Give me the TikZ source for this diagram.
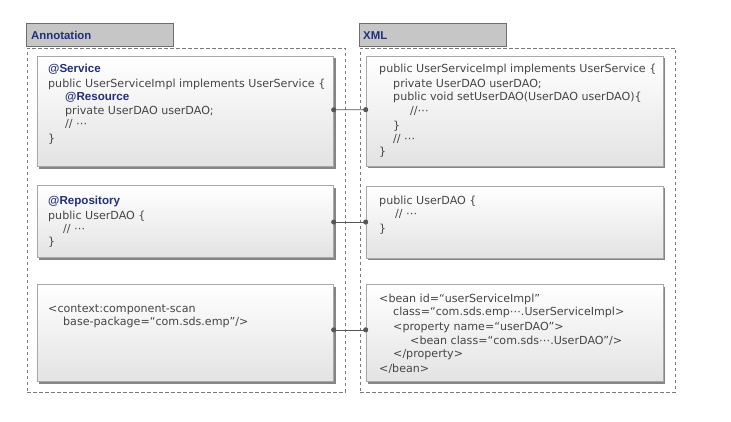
\documentclass[tikz,border=0pt]{standalone}
\usepackage{fontspec}
\setmainfont{DejaVu Sans}
\newfontfamily\boldfam{Liberation Sans}
\usetikzlibrary{shadows,arrows.meta}
\definecolor{codetext}{HTML}{454545}
\definecolor{navy}{HTML}{22307A}
\definecolor{titlefill}{HTML}{C6C6C6}
\definecolor{titleline}{HTML}{6E6E6E}
\definecolor{boxline}{HTML}{A8A8A8}
\definecolor{shadowgray}{HTML}{858585}
\definecolor{dotgray}{HTML}{555555}
\definecolor{dashgray}{HTML}{7A7A7A}
\tikzset{
  titlebox/.style={draw=titleline, fill=titlefill, line width=0.7pt, anchor=north west, inner sep=0pt},
  titletext/.style={anchor=base west, inner sep=0pt, text=navy, font=\boldfam\bfseries\fontsize{11.4}{13}\selectfont},
  container/.style={draw=dashgray, dash pattern=on 3.5pt off 2.5pt, line width=0.6pt, anchor=north west, inner sep=0pt},
  codebox/.style={draw=boxline, line width=0.5pt, top color=white, bottom color=black!11, anchor=north west, inner sep=0pt,
     drop shadow={shadow xshift=2.3pt, shadow yshift=-2.3pt, opacity=1, fill=shadowgray}},
  code/.style={anchor=base west, inner sep=0pt, text=codetext, font=\fontsize{11.1}{13}\selectfont},
  anno/.style={anchor=base west, inner sep=0pt, text=navy, font=\boldfam\bfseries\fontsize{11.6}{13}\selectfont},
  conn/.style={draw=dotgray, line width=0.7pt, {Circle[length=5pt]}-{Circle[length=5pt]}, shorten <=-2.5pt, shorten >=-2.5pt},
}
\begin{document}
\begin{tikzpicture}[x=1pt,y=-1pt]
\useasboundingbox[fill=white] (0,0) rectangle (731,421);
% titles
\node[titlebox, minimum width=146.7pt, minimum height=22.4pt] (tA) at (26,23.3) {};
\node[titletext] (tAt) at (31,39) {Annotation};
\node[titlebox, minimum width=146.4pt, minimum height=22.4pt] (tX) at (359.3,23.3) {};
\node[titletext] (tXt) at (363,39) {XML};
% containers
\node[container, minimum width=318pt, minimum height=344.3pt] (cA) at (27,47.7) {};
\node[container, minimum width=315pt, minimum height=344.3pt] (cX) at (360,47.7) {};
% boxes
\node[codebox, minimum width=296.5pt, minimum height=110.3pt] (L1) at (36.7,55.7) {};
\node[codebox, minimum width=297pt, minimum height=110pt] (R1) at (365.7,55.7) {};
\node[codebox, minimum width=296.5pt, minimum height=72pt] (L2) at (36.7,185) {};
\node[codebox, minimum width=297pt, minimum height=72pt] (R2) at (365.7,185.5) {};
\node[codebox, minimum width=296.5pt, minimum height=97pt] (L3) at (36.7,284.3) {};
\node[codebox, minimum width=297pt, minimum height=97pt] (R3) at (365.7,284.3) {};
% connectors
\draw[conn] ([yshift=1.3pt]L1.east) -- ([yshift=1.3pt]R1.east -| R1.west);
\draw[conn] ([yshift=-0.8pt]L2.east) -- ([yshift=-0.8pt]L2.east -| R2.west);
\draw[conn] ([yshift=3.2pt]L3.east) -- ([yshift=3.2pt]L3.east -| R3.west);
% left box 1
\node[anno] (a1) at (48,72.3) {@Service};
\node[code] (a2) at (48,87.3) {public UserServiceImpl implements UserService \{};
\node[anno] (a3) at (65,100.7) {@Resource};
\node[code] (a4) at (65,114) {private UserDAO userDAO;};
\node[code] (a5) at (65,127.3) {// ⋯};
\node[code] (a6) at (48,142.3) {\}};
% right box 1
\node[code] (b1) at (379,72.3) {public UserServiceImpl implements UserService \{};
\node[code] (b2) at (393,87.3) {private UserDAO userDAO;};
\node[code] (b3) at (393,100.7) {public void setUserDAO(UserDAO userDAO)\{};
\node[code] (b4) at (410,114) {//⋯};
\node[code] (b5) at (393,129) {\}};
\node[code] (b6) at (393,142.3) {// ⋯};
\node[code] (b7) at (379,155.7) {\}};
% left box 2
\node[anno] (c1) at (48,204) {@Repository};
\node[code] (c2) at (48,219) {public UserDAO \{};
\node[code] (c3) at (63,232.3) {// ⋯};
\node[code] (c4) at (48,245.7) {\}};
% right box 2
\node[code] (d1) at (379,204) {public UserDAO \{};
\node[code] (d2) at (395,217) {// ⋯};
\node[code] (d3) at (379,232.3) {\}};
% left box 3
\node[code] (e1) at (48,312.3) {<context:component-scan};
\node[code] (e2) at (63,325.7) {base-package=“com.sds.emp”/>};
% right box 3
\node[code] (f1) at (379,302.3) {<bean id=“userServiceImpl”};
\node[code] (f2) at (393,315.7) {class=“com.sds.emp⋯.UserServiceImpl>};
\node[code] (f3) at (393,330.7) {<property name=“userDAO”>};
\node[code] (f4) at (410,344) {<bean class=“com.sds⋯.UserDAO”/>};
\node[code] (f5) at (393,357.3) {</property>};
\node[code] (f6) at (379,372.3) {</bean>};
\end{tikzpicture}
\end{document}
